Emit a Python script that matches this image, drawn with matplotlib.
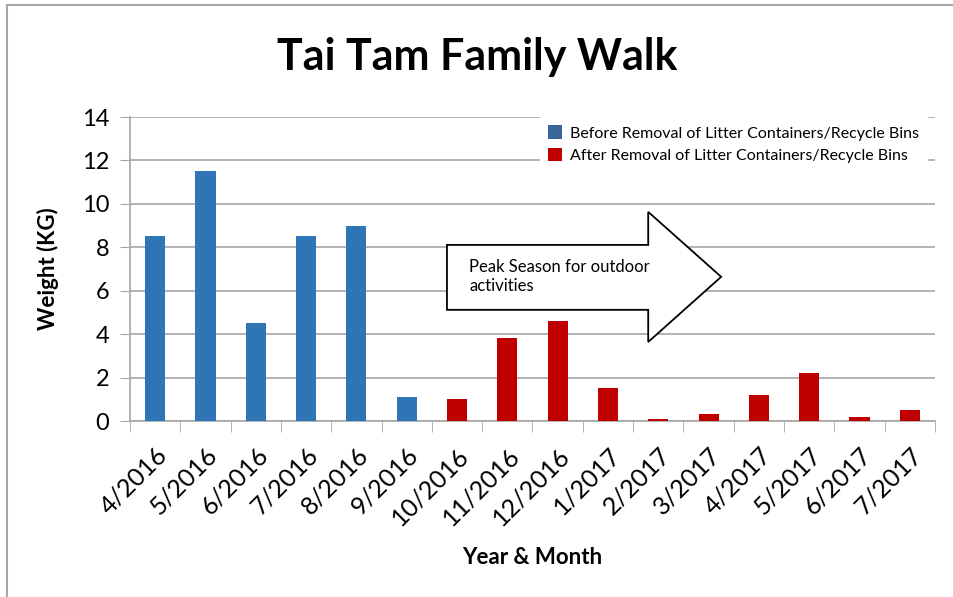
import numpy as np
from matplotlib import pyplot as plt
from matplotlib.patches import Polygon, Patch
from matplotlib.lines import Line2D

months = ["4/2016", "5/2016", "6/2016", "7/2016", "8/2016", "9/2016",
          "10/2016", "11/2016", "12/2016", "1/2017", "2/2017", "3/2017",
          "4/2017", "5/2017", "6/2017", "7/2017"]
weights = [8.5, 11.5, 4.5, 8.5, 9.0, 1.1, 1.0, 3.8, 4.6, 1.5, 0.1, 0.3,
           1.2, 2.2, 0.2, 0.5]
n_before = 6  # first six months before removal of bins

blue = "#2E75B6"
red = "#C00000"
grid_gray = "#A6A6A6"

plt.rcParams['font.family'] = ['Lato', 'DejaVu Sans']

fig = plt.figure(figsize=(9.54, 5.97), dpi=100)
ax = fig.add_axes([130 / 954, 1 - 421 / 597, (935 - 130) / 954, (421 - 117) / 597])

x = np.arange(len(months))
colors = [blue if i < n_before else red for i in range(len(months))]
ax.bar(x, weights, width=0.4, color=colors, zorder=3)

ax.set_xlim(-0.5, len(months) - 0.5)
ax.set_ylim(0, 14)
ax.set_yticks(np.arange(0, 15, 2))
ax.tick_params(axis='y', labelsize=17, length=7, color=grid_gray, pad=8)
ax.set_xticks(x)
ax.set_xticklabels(months, rotation=45, ha='right', rotation_mode='anchor', fontsize=18)
ax.set_xticks(np.arange(-0.5, len(months), 1), minor=True)
ax.tick_params(axis='x', which='major', length=0, pad=16)
ax.tick_params(axis='x', which='minor', length=8, color=grid_gray)
ax.grid(axis='y', color=grid_gray, linewidth=1.2, zorder=0)
ax.set_axisbelow(True)
for s in ['top', 'right']:
    ax.spines[s].set_visible(False)
for s in ['left', 'bottom']:
    ax.spines[s].set_color(grid_gray)
    ax.spines[s].set_linewidth(1.2)

ax.set_ylabel("Weight (KG)", fontsize=16, fontweight='bold', labelpad=16)
ax.set_xlabel("Year & Month", fontsize=16, fontweight='bold', labelpad=13)
fig.text(0.5, 1 - 57 / 597, "Tai Tam Family Walk", fontsize=31, fontweight='bold',
         ha='center', va='center')

# big arrow annotation
arrow = Polygon([(5.80, 8.11), (9.80, 8.11), (9.80, 9.63), (11.25, 6.64),
                 (9.80, 3.64), (9.80, 5.12), (5.80, 5.12)],
                closed=True, facecolor='white', edgecolor='black', linewidth=1.3, zorder=4)
ax.add_patch(arrow)
ax.text(6.24, 7.45, "Peak Season for outdoor\nactivities", fontsize=12, va='top',
        ha='left', linespacing=1.25, zorder=5)

handles = [Patch(facecolor="#3A6596", label="Before Removal of Litter Containers/Recycle Bins"),
           Patch(facecolor=red, label="After Removal of Litter Containers/Recycle Bins")]
leg = ax.legend(handles=handles, loc='upper right', bbox_to_anchor=(1.0, 1.025),
                frameon=True, fontsize=11.5, handlelength=0.9, handleheight=0.9,
                handletextpad=0.5, labelspacing=0.45, borderpad=0.5, fancybox=False)
leg.get_frame().set_edgecolor('white')
leg.get_frame().set_facecolor('white')
leg.get_frame().set_alpha(1.0)
leg.set_zorder(6)

# chart frame edges visible in the crop
fig.add_artist(Line2D([7 / 954, 7 / 954], [0, 1 - 5 / 597], color=grid_gray, linewidth=1.5))
fig.add_artist(Line2D([7 / 954, 1], [1 - 5 / 597, 1 - 5 / 597], color=grid_gray, linewidth=1.5))

fig.savefig("out.png", dpi=100)
